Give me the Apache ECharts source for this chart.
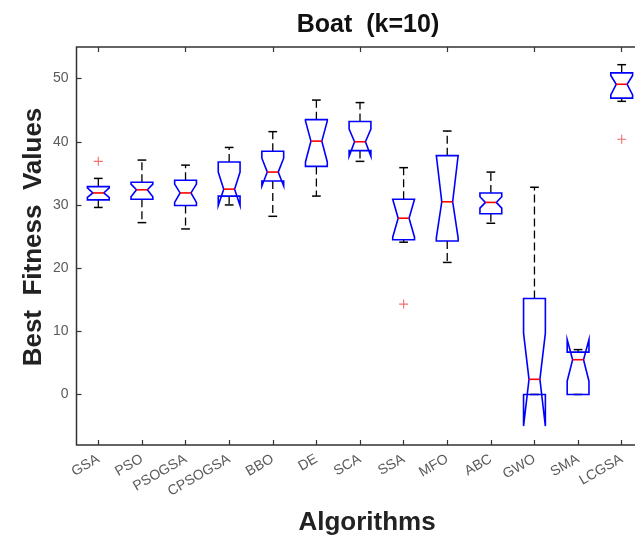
<!DOCTYPE html>
<html>
<head>
<meta charset="utf-8">
<script src="https://cdn.jsdelivr.net/npm/echarts@6/dist/echarts.min.js"></script>
<style>
html,body{margin:0;padding:0;background:#fff;}
#chart{width:635px;height:539px;}
</style>
</head>
<body>
<div id="chart"></div>
<script>
// ---- data ----
const categories = ['GSA','PSO','PSOGSA','CPSOGSA','BBO','DE','SCA','SSA','MFO','ABC','GWO','SMA','LCGSA'];
const whiskerLow  = [29.6, 27.2, 26.2, 30.0, 28.2, 31.4, 36.9, 24.1, 20.9, 27.1, 0.0, 0.0, 46.4];
const quartile1   = [30.8, 30.9, 29.9, 31.4, 33.8, 36.1, 38.6, 24.5, 24.3, 28.6, 0.0, 0.0, 46.9];
const medians     = [31.9, 32.4, 31.9, 32.5, 35.2, 40.1, 40.0, 27.9, 30.5, 30.4, 2.4, 5.5, 49.1];
const quartile3   = [32.9, 33.6, 33.9, 36.8, 38.5, 43.5, 43.2, 30.9, 37.8, 31.9, 15.2, 6.7, 50.9];
const whiskerHigh = [34.2, 37.1, 36.3, 39.1, 41.6, 46.6, 46.2, 35.9, 41.7, 35.2, 32.8, 7.1, 52.2];
const notchLow    = [31.2, 31.3, 30.4, 29.9, 33.0, 36.8, 37.7, 24.9, 24.8, 29.5, -5.0, 2.1, 47.4];
const notchHigh   = [32.7, 33.3, 33.3, 35.2, 37.4, 43.3, 42.0, 30.9, 37.8, 31.3, 9.7, 8.7, 50.5];
const outlierCats = ['GSA', 'SSA', 'LCGSA'];
const outlierVals = [36.9, 14.3, 40.4];
const yTickValues = [0, 10, 20, 30, 40, 50];

const boxData = categories.map((c, i) => [i, whiskerLow[i], quartile1[i], medians[i], quartile3[i], whiskerHigh[i], notchLow[i], notchHigh[i]]);
const outlierData = outlierCats.map((c, k) => [categories.indexOf(c), outlierVals[k]]);

const chart = echarts.init(document.getElementById('chart'), null, {renderer: 'canvas'});
const axisColor = '#333333';
const labelColor = '#5a5a5a';
const fontFam = 'Liberation Sans, Arial, Helvetica, sans-serif';

function renderBox(params, api) {
  const i = api.value(0);
  const band = api.size([1, 0])[0];
  const hw = band * 0.25, cw = band * 0.1;
  const x = api.coord([i, 0])[0];
  const y = v => api.coord([i, v])[1];
  const wl = api.value(1), q1 = api.value(2), md = api.value(3), q3 = api.value(4), wh = api.value(5), nl = api.value(6), nh = api.value(7);
  const children = [];
  const dashStyle = {stroke: '#000', lineWidth: 1.3, lineDash: [8, 4]};
  const capStyle = {stroke: '#000', lineWidth: 1.5};
  if (wh > q3) children.push({type: 'line', shape: {x1: x, y1: y(q3), x2: x, y2: y(wh)}, style: dashStyle});
  if (wl < q1) children.push({type: 'line', shape: {x1: x, y1: y(q1), x2: x, y2: y(wl)}, style: dashStyle});
  children.push({type: 'line', shape: {x1: x - cw, y1: y(wh), x2: x + cw, y2: y(wh)}, style: capStyle});
  children.push({type: 'line', shape: {x1: x - cw, y1: y(wl), x2: x + cw, y2: y(wl)}, style: capStyle});
  const pts = [
    [x - hw, y(q1)], [x - hw, y(nl)], [x - hw / 2, y(md)], [x - hw, y(nh)], [x - hw, y(q3)],
    [x + hw, y(q3)], [x + hw, y(nh)], [x + hw / 2, y(md)], [x + hw, y(nl)], [x + hw, y(q1)]
  ];
  children.push({type: 'polygon', shape: {points: pts}, style: {fill: 'none', stroke: '#0000ff', lineWidth: 1.6, lineJoin: 'miter'}});
  children.push({type: 'line', shape: {x1: x - hw / 2, y1: y(md), x2: x + hw / 2, y2: y(md)}, style: {stroke: '#ff0000', lineWidth: 1.6}});
  return {type: 'group', children: children};
}

const option = {
  backgroundColor: '#ffffff',
  animation: false,
  grid: {left: 76.5, top: 47, width: 567, height: 398, containLabel: false, outerBoundsMode: 'none',
         show: true, borderColor: axisColor, borderWidth: 1.5, backgroundColor: '#fff'},
  xAxis: [{
    type: 'category', data: categories, position: 'bottom',
    axisLine: {show: false, onZero: false},
    axisTick: {show: true, inside: true, alignWithLabel: true, length: 5, lineStyle: {color: axisColor, width: 1.2}},
    axisLabel: {rotate: 30, color: labelColor, fontSize: 14, fontFamily: fontFam, margin: 13, interval: 0},
    splitLine: {show: false}
  }, {
    type: 'category', data: categories, position: 'top',
    axisLine: {show: false, onZero: false},
    axisTick: {show: true, inside: true, alignWithLabel: true, length: 5, lineStyle: {color: axisColor, width: 1.2}},
    axisLabel: {show: false},
    splitLine: {show: false}
  }],
  yAxis: {
    type: 'value', min: -8, max: 55,
    axisLine: {show: false},
    axisTick: {show: true, inside: true, length: 5, customValues: yTickValues, lineStyle: {color: axisColor, width: 1.2}},
    axisLabel: {color: labelColor, fontSize: 14, fontFamily: fontFam, margin: 8, customValues: yTickValues},
    splitLine: {show: false}
  },
  series: [{
    type: 'custom',
    renderItem: renderBox,
    data: boxData,
    encode: {x: 0, y: [1, 2, 3, 4, 5, 6, 7]},
    z: 2
  }, {
    type: 'scatter',
    data: outlierData,
    symbol: 'path://M0,5L10,5M5,0L5,10',
    symbolSize: 9,
    itemStyle: {color: 'rgba(0,0,0,0)', borderColor: '#f04848', borderWidth: 1.1},
    z: 3
  }],
  graphic: [
    {type: 'text', x: 368, y: 25, style: {text: 'Boat  (k=10)', font: 'bold 25px ' + fontFam, fill: '#111', textAlign: 'center', textVerticalAlign: 'middle'}},
    {type: 'text', x: 367, y: 523, style: {text: 'Algorithms', font: 'bold 26px ' + fontFam, fill: '#222', textAlign: 'center', textVerticalAlign: 'middle'}},
    {type: 'text', x: 34, y: 237, rotation: Math.PI / 2, style: {text: 'Best  Fitness  Values', font: 'bold 26px ' + fontFam, fill: '#222', textAlign: 'center', textVerticalAlign: 'middle'}}
  ]
};
chart.setOption(option);
</script>
</body>
</html>
